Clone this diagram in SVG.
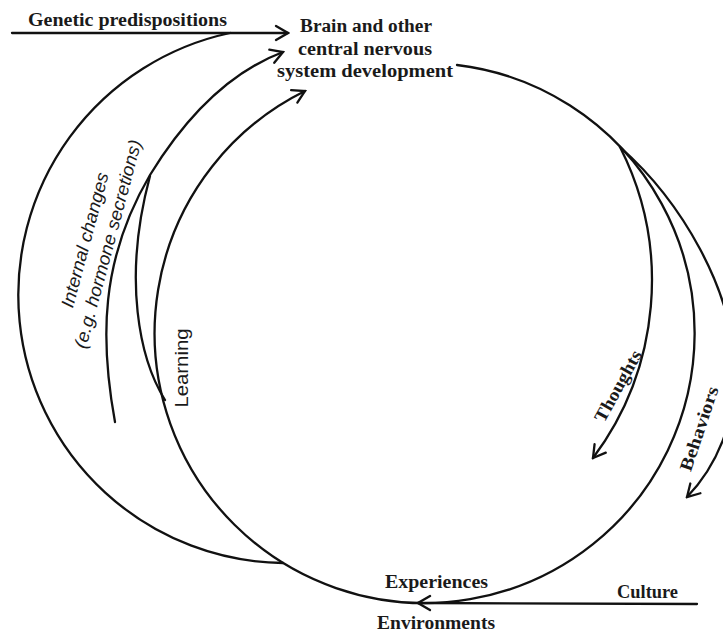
<svg xmlns="http://www.w3.org/2000/svg" width="723" height="635" viewBox="0 0 723 635">
<defs>
<style>
.ln{fill:none;stroke:#111;stroke-width:2.3;stroke-linecap:round}
.b{font-family:"Liberation Serif","Times New Roman",serif;font-weight:bold;font-size:18px;fill:#1a1a1a}
.i{font-family:"Liberation Sans",Arial,sans-serif;font-style:italic;font-size:18px;fill:#1a1a1a}
.r{font-family:"Liberation Sans",Arial,sans-serif;font-size:18px;fill:#1a1a1a}
</style>
<marker id="arr" viewBox="-16 -10 18 20" markerWidth="18" markerHeight="20" refX="0" refY="0" markerUnits="userSpaceOnUse" orient="auto">
<path d="M-12,-7 L0,0 L-12,7" fill="none" stroke="#111" stroke-width="2.3" stroke-linecap="round" stroke-linejoin="miter"/>
</marker>
</defs>
<rect width="723" height="635" fill="#fff"/>
<g id="connectors">
<path class="ln" d="M12,33 L288,33" marker-end="url(#arr)"/>
<path class="ln" d="M283,563 A268 268 0 0 1 230,33"/>
<path class="ln" d="M115,422 C100,340 100,260 150,175 C185,118 230,72 283,52" marker-end="url(#arr)"/>
<path class="ln" d="M165,400 C140,360 122,280 150,176"/>
<path class="ln" d="M457,65 A270 270 0 1 1 305,91" marker-end="url(#arr)"/>
<path class="ln" d="M620,147 A296 296 0 0 1 593,458" marker-end="url(#arr)"/>
<path class="ln" d="M620,147 C680,200 735,290 735,375 C735,420 718,465 687,497" marker-end="url(#arr)"/>
<path class="ln" d="M697,604 L418,603" marker-end="url(#arr)"/>
</g>
<g id="genetic"><text class="b" x="28" y="26" textLength="199" lengthAdjust="spacingAndGlyphs">Genetic predispositions</text></g>
<g id="brain">
<text class="b" x="366" y="32" text-anchor="middle" textLength="132" lengthAdjust="spacingAndGlyphs">Brain and other</text>
<text class="b" x="365" y="55" text-anchor="middle" textLength="134" lengthAdjust="spacingAndGlyphs">central nervous</text>
<text class="b" x="365" y="77" text-anchor="middle" textLength="176" lengthAdjust="spacingAndGlyphs">system development</text>
</g>
<g id="internal">
<text class="i" transform="translate(85,240) rotate(-75)" y="6" text-anchor="middle" textLength="139" lengthAdjust="spacingAndGlyphs">Internal changes</text>
<text class="i" transform="translate(108,244) rotate(-75)" y="6" text-anchor="middle" textLength="215" lengthAdjust="spacingAndGlyphs">(e.g. hormone secretions)</text>
</g>
<g id="learning"><text class="r" transform="translate(182,368) rotate(-90)" y="6" text-anchor="middle" textLength="79" lengthAdjust="spacingAndGlyphs">Learning</text></g>
<g id="thoughts"><text class="b" transform="translate(618,386) rotate(-61)" y="6" text-anchor="middle" textLength="79" lengthAdjust="spacingAndGlyphs">Thoughts</text></g>
<g id="behaviors"><text class="b" transform="translate(700,429) rotate(-71.5)" y="5" text-anchor="middle" textLength="88" lengthAdjust="spacingAndGlyphs">Behaviors</text></g>
<g id="experiences"><text class="b" x="436.5" y="588" text-anchor="middle" textLength="103" lengthAdjust="spacingAndGlyphs">Experiences</text></g>
<g id="environments"><text class="b" x="436" y="629" text-anchor="middle" textLength="118" lengthAdjust="spacingAndGlyphs">Environments</text></g>
<g id="culture"><text class="b" x="647.5" y="598" text-anchor="middle" textLength="61" lengthAdjust="spacingAndGlyphs">Culture</text></g>
</svg>
